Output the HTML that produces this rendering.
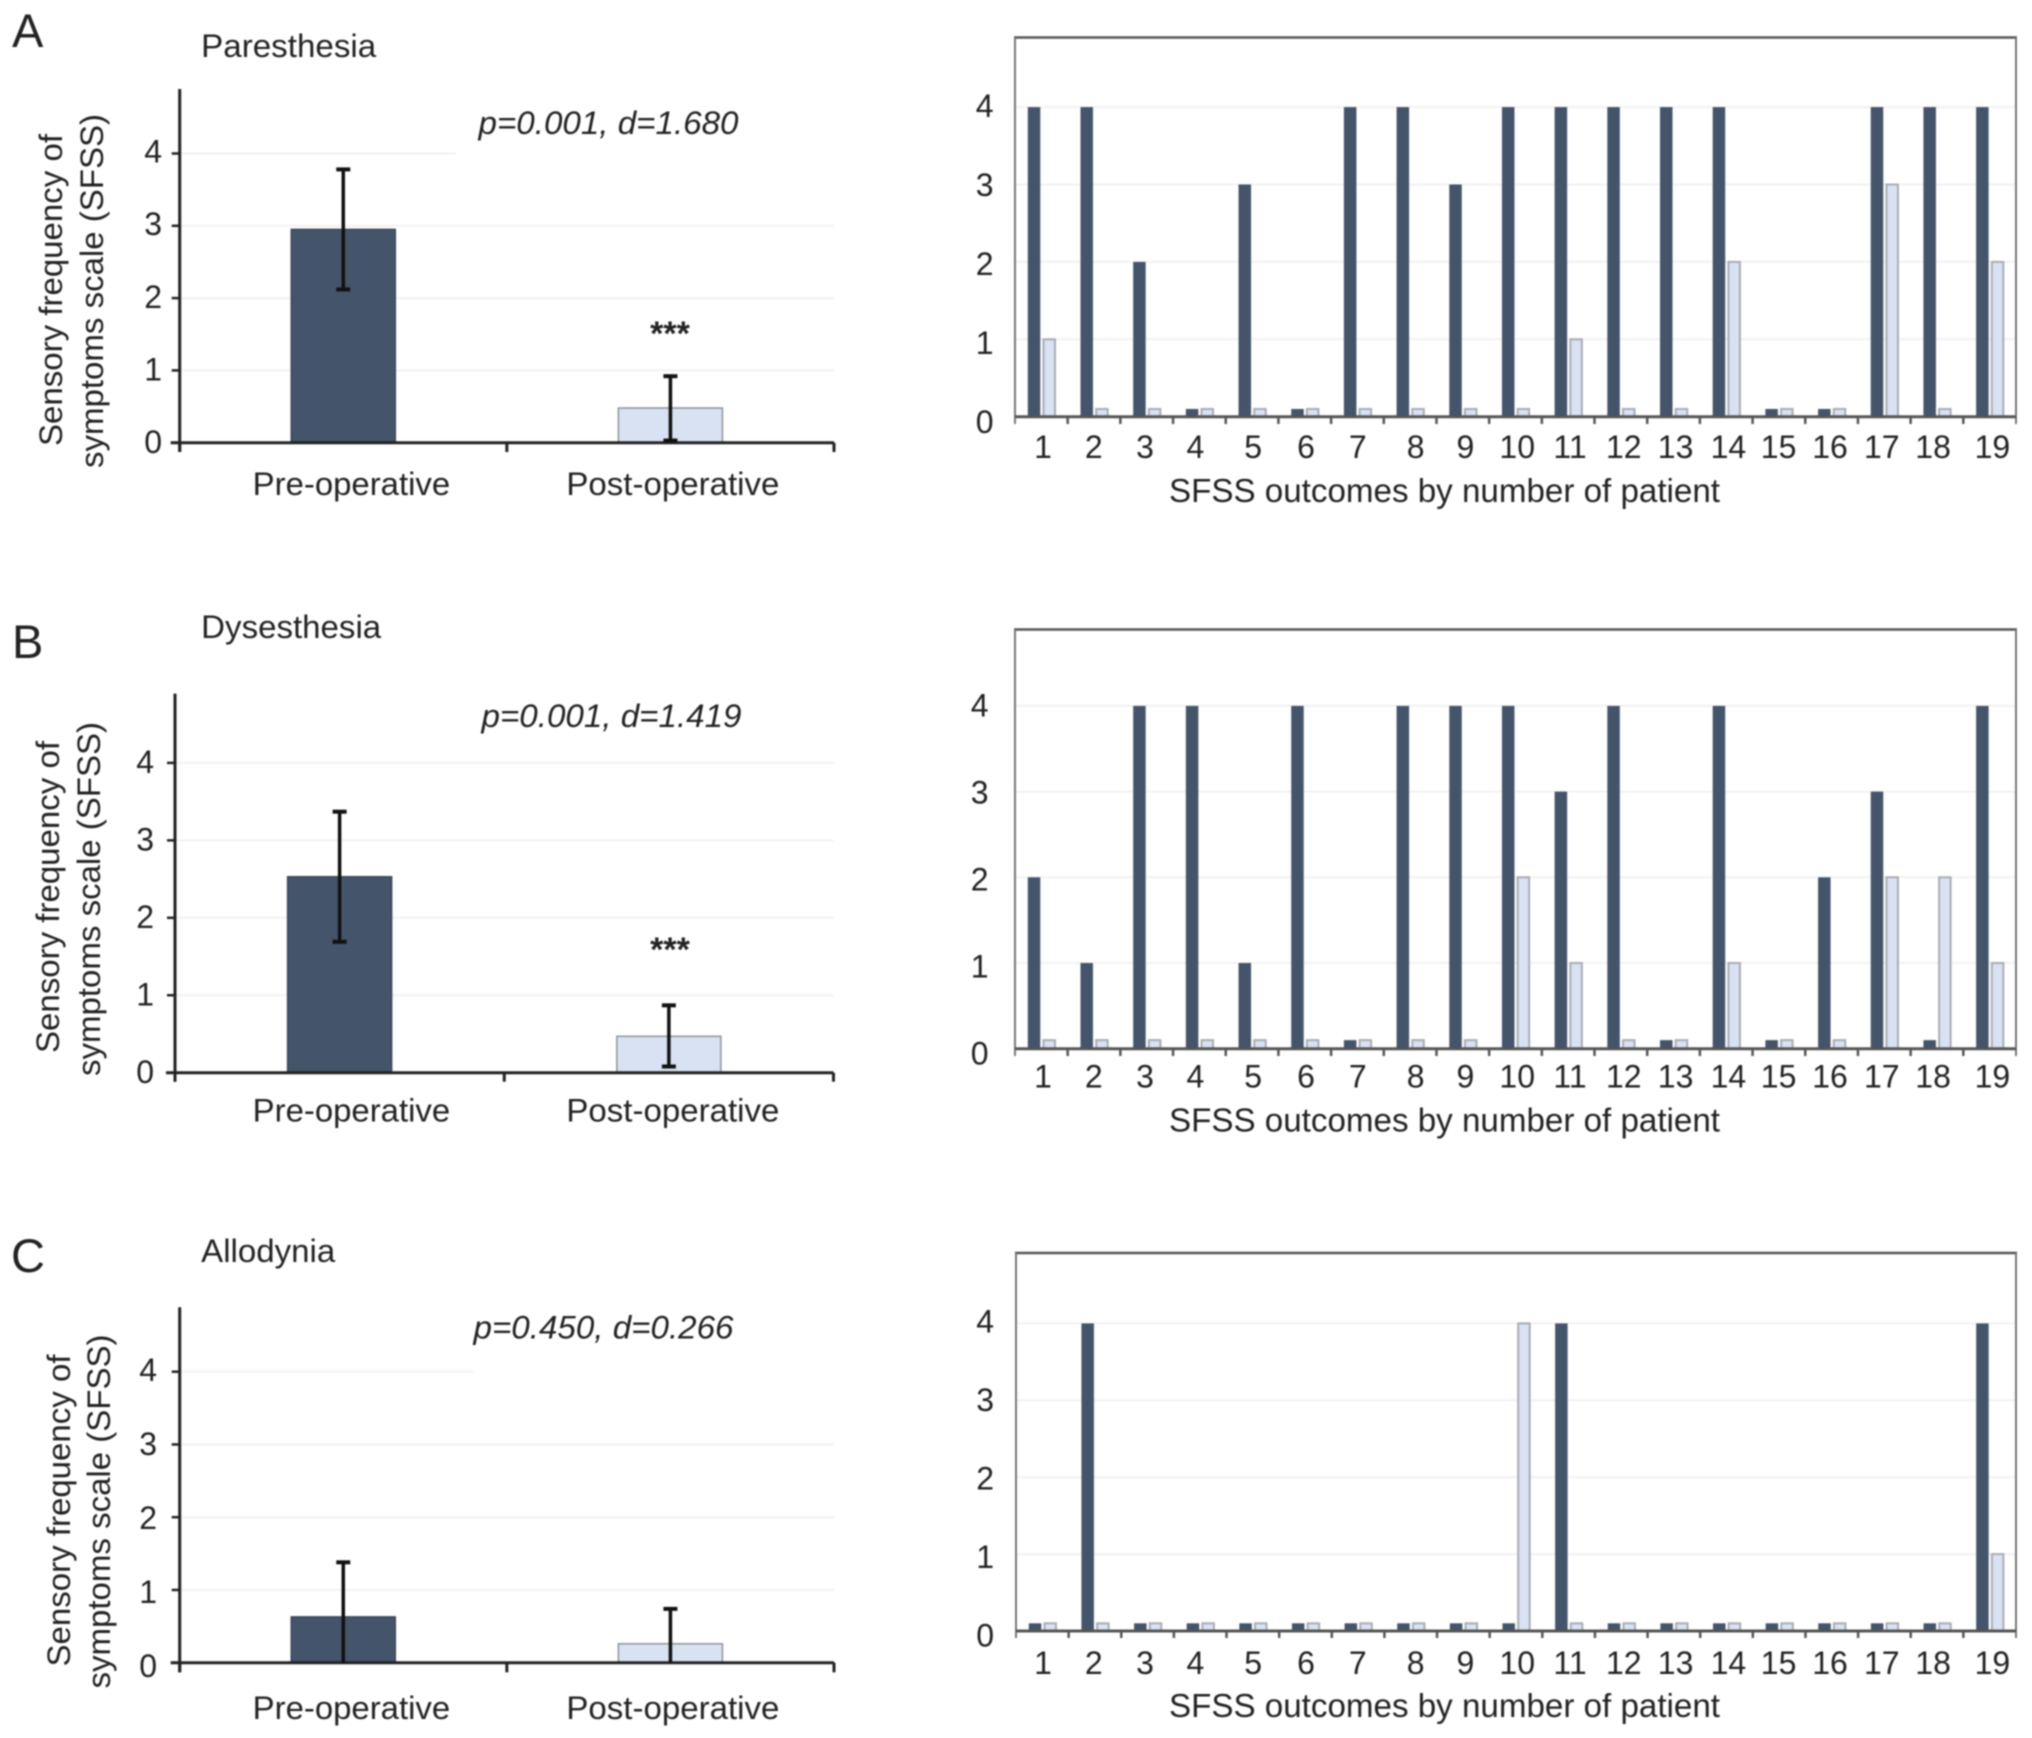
<!DOCTYPE html>
<html lang="en">
<head>
<meta charset="utf-8">
<title>SFSS outcomes: paresthesia, dysesthesia, allodynia</title>
<style>
html,body{margin:0;padding:0;background:#fff;}
svg{display:block;filter:blur(0.75px);}
text{font-family:"Liberation Sans",sans-serif;fill:#222;}
.ttl{font-size:32.5px;}
.letter{font-size:47px;}
.pval{font-size:32px;font-style:italic;}
.ylab{font-size:32px;}
.cat{font-size:32.5px;}
.xlab{font-size:33px;}
.star{font-size:34px;font-weight:bold;}
.ytick{font-size:32px;}
.xtick{font-size:32px;}
</style>
</head>
<body>
<svg id="figure" xmlns="http://www.w3.org/2000/svg" width="2032" height="1738" viewBox="0 0 2032 1738">
  <rect x="0" y="0" width="2032" height="1738" fill="#ffffff"/>

  <g id="panel-a"></g>
  <g id="panel-b"></g>
  <g id="panel-c"></g>

  <text class="letter" x="12" y="47">A</text>
  <text class="ttl" x="201.2" y="57" textLength="175" lengthAdjust="spacingAndGlyphs">Paresthesia</text>
  <text class="pval" x="478.5" y="134" textLength="260" lengthAdjust="spacingAndGlyphs">p=0.001, d=1.680</text>
  <text class="ylab" transform="translate(62,446) rotate(-90)" textLength="312" lengthAdjust="spacingAndGlyphs">Sensory frequency of</text>
  <text class="ylab" transform="translate(103,468) rotate(-90)" textLength="354" lengthAdjust="spacingAndGlyphs">symptoms scale (SFSS)</text>
  <text class="cat" x="252.7" y="495" textLength="197.5" lengthAdjust="spacingAndGlyphs">Pre-operative</text>
  <text class="cat" x="566.4" y="495" textLength="213" lengthAdjust="spacingAndGlyphs">Post-operative</text>
  <text class="star" x="670" y="345" text-anchor="middle">***</text>
  <text class="xlab" x="1169" y="502" textLength="551" lengthAdjust="spacingAndGlyphs">SFSS outcomes by number of patient</text>

  <text class="letter" x="12" y="658">B</text>
  <text class="ttl" x="201.2" y="638" textLength="180" lengthAdjust="spacingAndGlyphs">Dysesthesia</text>
  <text class="pval" x="481.5" y="727" textLength="260" lengthAdjust="spacingAndGlyphs">p=0.001, d=1.419</text>
  <text class="ylab" transform="translate(59,1053) rotate(-90)" textLength="312" lengthAdjust="spacingAndGlyphs">Sensory frequency of</text>
  <text class="ylab" transform="translate(100,1076) rotate(-90)" textLength="354" lengthAdjust="spacingAndGlyphs">symptoms scale (SFSS)</text>
  <text class="cat" x="252.7" y="1121.7" textLength="197.5" lengthAdjust="spacingAndGlyphs">Pre-operative</text>
  <text class="cat" x="566.4" y="1121.7" textLength="213" lengthAdjust="spacingAndGlyphs">Post-operative</text>
  <text class="star" x="670" y="961" text-anchor="middle">***</text>
  <text class="xlab" x="1169" y="1131.5" textLength="551" lengthAdjust="spacingAndGlyphs">SFSS outcomes by number of patient</text>

  <text class="letter" x="11" y="1272">C</text>
  <text class="ttl" x="201.2" y="1262" textLength="134" lengthAdjust="spacingAndGlyphs">Allodynia</text>
  <text class="pval" x="473.5" y="1338.5" textLength="260" lengthAdjust="spacingAndGlyphs">p=0.450, d=0.266</text>
  <text class="ylab" transform="translate(70,1666.5) rotate(-90)" textLength="312" lengthAdjust="spacingAndGlyphs">Sensory frequency of</text>
  <text class="ylab" transform="translate(110,1688.5) rotate(-90)" textLength="354" lengthAdjust="spacingAndGlyphs">symptoms scale (SFSS)</text>
  <text class="cat" x="252.7" y="1719" textLength="197.5" lengthAdjust="spacingAndGlyphs">Pre-operative</text>
  <text class="cat" x="566.4" y="1719" textLength="213" lengthAdjust="spacingAndGlyphs">Post-operative</text>
  <text class="xlab" x="1169" y="1717" textLength="551" lengthAdjust="spacingAndGlyphs">SFSS outcomes by number of patient</text>
</svg>

<script>
// ---- chart data ----
const patients = [1,2,3,4,5,6,7,8,9,10,11,12,13,14,15,16,17,18,19];
const yTickValues = [0,1,2,3,4];

// per-patient scores (a score of zero is drawn in the reference as a 0.1 stub)
const paresthesiaPre  = [4,4,2,0.1,3,0.1,4,4,3,4,4,4,4,4,0.1,0.1,4,4,4];
const paresthesiaPost = [1,0.1,0.1,0.1,0.1,0.1,0.1,0.1,0.1,0.1,1,0.1,0.1,2,0.1,0.1,3,0.1,2];
const dysesthesiaPre  = [2,1,4,4,1,4,0.1,4,4,4,3,4,0.1,4,0.1,2,3,0.1,4];
const dysesthesiaPost = [0.1,0.1,0.1,0.1,0.1,0.1,0.1,0.1,0.1,2,1,0.1,0.1,1,0.1,0.1,2,2,1];
const allodyniaPre    = [0.1,4,0.1,0.1,0.1,0.1,0.1,0.1,0.1,0.1,4,0.1,0.1,0.1,0.1,0.1,0.1,0.1,4];
const allodyniaPost   = [0.1,0.1,0.1,0.1,0.1,0.1,0.1,0.1,0.1,4,0.1,0.1,0.1,0.1,0.1,0.1,0.1,0.1,1];

// group means and error bars: [pre-operative, post-operative]
const paresthesiaMeans   = [2.95,0.48];
const paresthesiaErrHigh = [3.78,0.92];
const paresthesiaErrLow  = [2.12,0.03];
const dysesthesiaMeans   = [2.53,0.47];
const dysesthesiaErrHigh = [3.37,0.87];
const dysesthesiaErrLow  = [1.69,0.08];
const allodyniaMeans     = [0.63,0.26];
const allodyniaErrHigh   = [1.38,0.74];
const allodyniaErrLow    = [0,0];

// ---- palette ----
const darkFill = '#44546a';
const lightFill = '#d9e2f3';

// ---- drawing helpers ----
const SVGNS = 'http://www.w3.org/2000/svg';
function make(parent, tag, name, props) {
  const node = document.createElementNS(SVGNS, tag);
  
  
  for (const key in props) { node.setAttribute(key, props[key]); }
  parent.appendChild(node);
  return node;
}
function line(parent, name, x1, y1, x2, y2, stroke, width) {
  return make(parent, 'line', name, {x1: x1, y1: y1, x2: x2, y2: y2, stroke: stroke, 'stroke-width': width});
}

function drawSummary(root, prefix, geo, means, errHigh, errLow) {
  const y = v => geo.y0 - v * geo.unit;
  const band = (geo.xRight - geo.x0) / 2;
  const x = i => geo.x0 + band * (i + 0.5);

  yTickValues.forEach(t => {
    if (t === 0) { return; }
    const end = (t === 4 && geo.grid4End) ? geo.grid4End : geo.xRight;
    line(root, prefix + '-gridline-' + t, geo.x0, y(t), end, y(t), '#f2f2f2', 2);
  });

  means.forEach((m, i) => {
    const group = i === 0 ? 'pre-operative' : 'post-operative';
    make(root, 'rect', prefix + '-bar-' + group, {
      x: x(i) - 52, y: y(m), width: 104, height: y(0) - y(m),
      fill: i === 0 ? darkFill : lightFill,
      stroke: i === 0 ? '#3a4658' : '#8d929a', 'stroke-width': 1.5
    });
  });

  line(root, prefix + '-y-axis', geo.x0, geo.top, geo.x0, geo.tickBottom, '#222', 3);
  line(root, prefix + '-x-axis', geo.x0 - 9, y(0), geo.xRight, y(0), '#222', 3);
  [0, 1, 2].forEach(i => {
    const tx = geo.x0 + band * i;
    line(root, prefix + '-x-tick-' + i, tx, y(0), tx, geo.tickBottom, '#222', 3);
  });

  yTickValues.forEach(t => {
    line(root, prefix + '-y-tick-' + t, geo.x0 - 8, y(t), geo.x0, y(t), '#222', 2.5);
    const label = make(root, 'text', prefix + '-y-tick-label-' + t, {
      class: 'ytick', x: geo.tickLabelX, y: geo.labelY0 - t * geo.labelUnit + 11, 'text-anchor': 'end'
    });
    label.textContent = t;
  });

  means.forEach((m, i) => {
    const group = i === 0 ? 'pre-operative' : 'post-operative';
    const cx = x(i);
    line(root, prefix + '-error-bar-' + group, cx, y(errHigh[i]), cx, y(errLow[i]), '#111', 3.5);
    line(root, prefix + '-error-cap-high-' + group, cx - 7, y(errHigh[i]), cx + 7, y(errHigh[i]), '#111', 4);
    if (errLow[i] > 0) {
      line(root, prefix + '-error-cap-low-' + group, cx - 7, y(errLow[i]), cx + 7, y(errLow[i]), '#111', 4);
    }
  });
}

function drawPatients(root, prefix, geo, pre, post) {
  const y = v => geo.y0 - v * geo.unit;
  const band = (geo.xRight - geo.x0) / patients.length;
  const x = i => geo.x0 + band * i;
  // typesetting nudge of each hand-placed patient label in the reference
  const labelNudge = [1,-1,-2.6,-5,0,0,-1,4,1,0,0,1,0,0,-2.6,-4,-5,-6.5,0];

  yTickValues.forEach(t => {
    if (t === 0) { return; }
    line(root, prefix + '-gridline-' + t, geo.x0, y(t), geo.xRight, y(t), '#f2f2f2', 2);
  });

  patients.forEach((p, i) => {
    make(root, 'rect', prefix + '-bar-pre-patient-' + p, {
      x: x(i) + 12.8, y: y(pre[i]), width: 12.5, height: y(0) - y(pre[i]), fill: darkFill
    });
    make(root, 'rect', prefix + '-bar-post-patient-' + p, {
      x: x(i) + 28.5, y: y(post[i]), width: 11.5, height: y(0) - y(post[i]),
      fill: lightFill, stroke: '#a9acb3', 'stroke-width': 2
    });
  });

  line(root, prefix + '-frame-top', geo.x0 - 1, geo.top, geo.xRight + 1, geo.top, '#555', 2.5);
  line(root, prefix + '-frame-left', geo.x0, geo.top, geo.x0, geo.tickBottom, '#777', 2);
  line(root, prefix + '-frame-right', geo.xRight, geo.top, geo.xRight, geo.tickBottom, '#777', 2);
  line(root, prefix + '-x-axis', geo.x0, y(0), geo.xRight, y(0), '#555', 3);

  for (let i = 1; i < patients.length; i++) {
    line(root, prefix + '-x-tick-' + i, x(i), y(0), x(i), geo.tickBottom, '#555', 2.5);
  }

  patients.forEach((p, i) => {
    const label = make(root, 'text', prefix + '-x-tick-label-' + p, {
      class: 'xtick', x: 1042 + i * 52.8 + labelNudge[i], y: geo.xLabelY, 'text-anchor': 'middle'
    });
    label.textContent = p;
  });

  yTickValues.forEach(t => {
    const label = make(root, 'text', prefix + '-y-tick-label-' + t, {
      class: 'ytick', x: geo.tickLabelX, y: geo.labelY0 - t * geo.labelUnit + 11, 'text-anchor': 'end'
    });
    label.textContent = t;
  });
}

// ---- panels ----
const panelA = document.getElementById('panel-a');
const panelB = document.getElementById('panel-b');
const panelC = document.getElementById('panel-c');

drawSummary(panelA, 'a-summary',
  {x0:179.7, xRight:834, y0:442.7, unit:72.3, top:89, tickBottom:452, tickLabelX:162, labelY0:442, labelUnit:72.6, grid4End:456},
  paresthesiaMeans, paresthesiaErrHigh, paresthesiaErrLow);
drawPatients(panelA, 'a-patients',
  {x0:1015, xRight:2016, y0:416.7, unit:77.4, top:37.5, tickBottom:424, xLabelY:458, tickLabelX:993.5, labelY0:422, labelUnit:79},
  paresthesiaPre, paresthesiaPost);

drawSummary(panelB, 'b-summary',
  {x0:175, xRight:833.5, y0:1072.7, unit:77.45, top:693.6, tickBottom:1081.7, tickLabelX:154, labelY0:1072, labelUnit:77.5, grid4End:0},
  dysesthesiaMeans, dysesthesiaErrHigh, dysesthesiaErrLow);
drawPatients(panelB, 'b-patients',
  {x0:1015, xRight:2016, y0:1048.7, unit:85.7, top:629.5, tickBottom:1056, xLabelY:1087.7, tickLabelX:988.5, labelY0:1053.7, labelUnit:87},
  dysesthesiaPre, dysesthesiaPost);

drawSummary(panelC, 'c-summary',
  {x0:179.7, xRight:834, y0:1662.7, unit:72.75, top:1307.3, tickBottom:1672.3, tickLabelX:157, labelY0:1666, labelUnit:74, grid4End:473},
  allodyniaMeans, allodyniaErrHigh, allodyniaErrLow);
drawPatients(panelC, 'c-patients',
  {x0:1016, xRight:2016, y0:1631, unit:76.9, top:1253, tickBottom:1638, xLabelY:1674, tickLabelX:994, labelY0:1635.4, labelUnit:78.5},
  allodyniaPre, allodyniaPost);
</script>
</body>
</html>
